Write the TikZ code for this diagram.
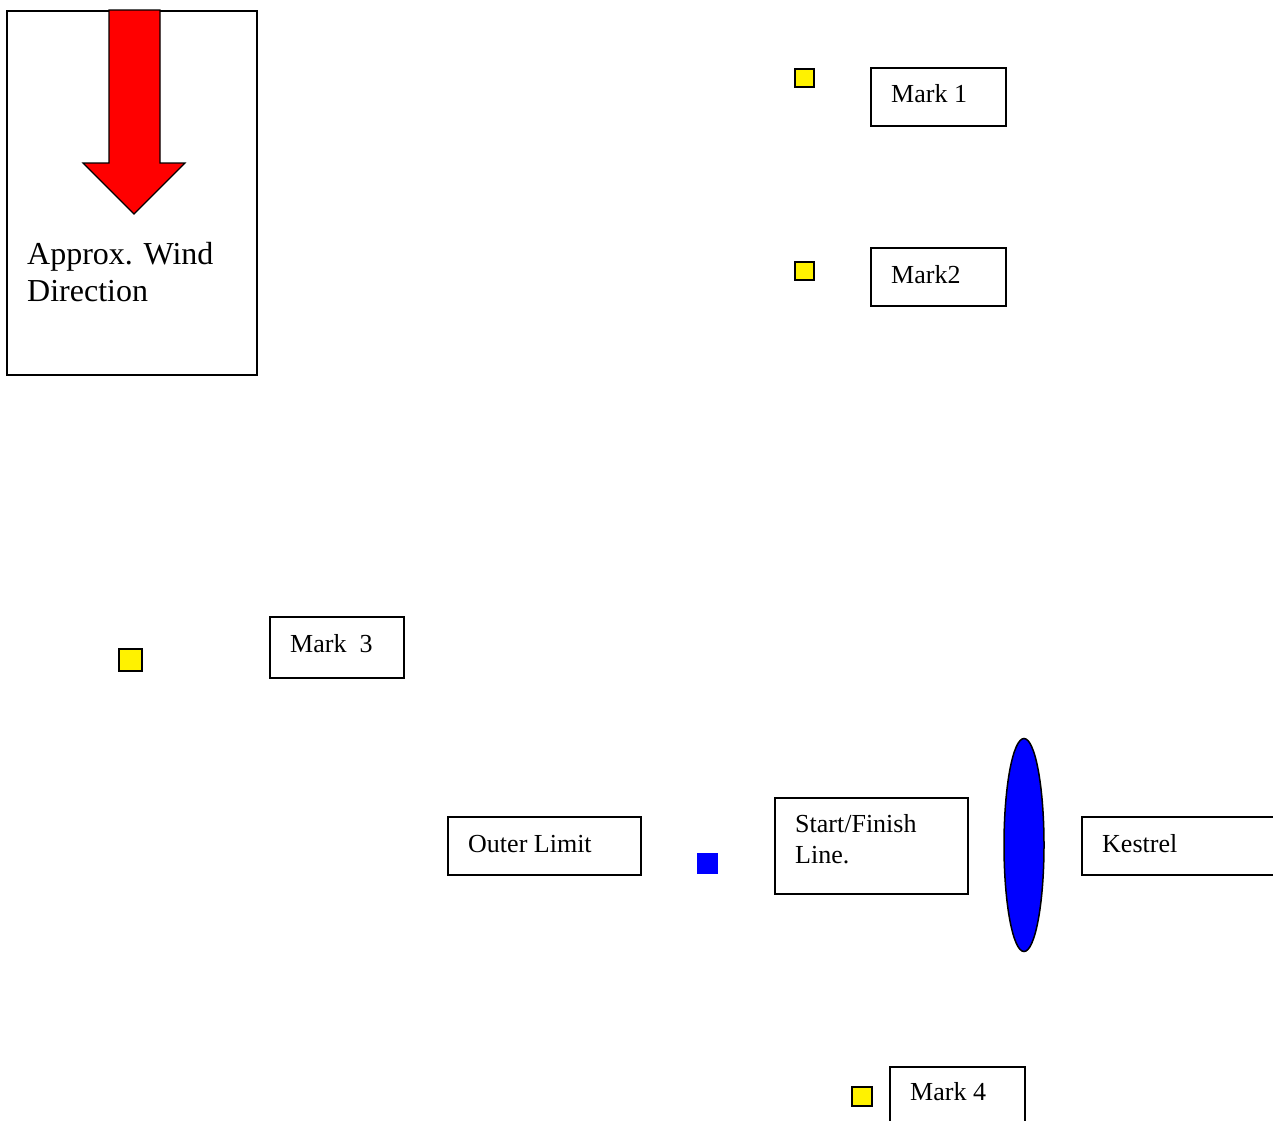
\documentclass[tikz,border=0pt]{standalone}
\usepackage{fontspec}
\setmainfont{Liberation Serif}
\usetikzlibrary{shapes.geometric}
\tikzset{
  boxframe/.style={draw=black, line width=1.5pt, fill=white, inner sep=0pt, anchor=north west},
  marksq/.style={draw=black, line width=1.5pt, fill=yellow, inner sep=0pt, anchor=north west},
  lbl/.style={anchor=base west, inner sep=0pt, font=\fontsize{26}{30}\selectfont},
  bigl/.style={anchor=base west, inner sep=0pt, font=\fontsize{32}{37}\selectfont, align=left},
}
\begin{document}
\begin{tikzpicture}[x=1pt,y=-1pt]
\useasboundingbox (0,0) rectangle (1273,1120);
\clip (0,0) rectangle (1273,1120);
% wind box
\node[boxframe, minimum width=250pt, minimum height=364pt] (windbox) at (6,10) {};
\draw[line width=1.2pt, fill=red] (109,10) -- (109,163) -- (83,163) -- (134,214) -- (185,163) -- (160,163) -- (160,10) -- cycle;
\node[bigl] (windtxt1) at (27,264) {Approx. Wind};
\node[bigl] (windtxt2) at (27,301) {Direction};
% Mark 1
\node[marksq, minimum width=19pt, minimum height=18pt] (sq1) at (794,68) {};
\node[boxframe, minimum width=135pt, minimum height=58pt] (m1) at (870,67) {};
\node[lbl] (m1t) at (891,102) {Mark 1};
% Mark 2
\node[marksq, minimum width=19pt, minimum height=18pt] (sq2) at (794,261) {};
\node[boxframe, minimum width=135pt, minimum height=58pt] (m2) at (870,247) {};
\node[lbl] (m2t) at (891,283) {Mark2};
% Mark 3
\node[marksq, minimum width=23pt, minimum height=22pt] (sq3) at (118,648) {};
\node[boxframe, minimum width=134pt, minimum height=61pt] (m3) at (269,616) {};
\node[lbl] (m3t) at (290,652) {Mark\ \ 3};
% Outer limit
\node[boxframe, minimum width=193pt, minimum height=58pt] (ol) at (447,816) {};
\node[lbl] (olt) at (468,852) {Outer Limit};
\node[fill=blue, inner sep=0pt, minimum width=21pt, minimum height=21pt, anchor=north west] (bsq) at (697,853) {};
% Start/Finish
\node[boxframe, minimum width=193pt, minimum height=96pt] (sf) at (774,797) {};
\node[lbl] (sft1) at (795,832) {Start/Finish};
\node[lbl] (sft2) at (795,863) {Line.};
% ellipse
\node[ellipse, draw=black, line width=1.5pt, fill=blue, inner sep=0pt, minimum width=40pt, minimum height=213pt] (ell) at (1024,845) {};
% Kestrel
\node[boxframe, minimum width=200pt, minimum height=58pt] (ke) at (1081,816) {};
\node[lbl] (ket) at (1102,852) {Kestrel};
% Mark 4
\node[marksq, minimum width=20pt, minimum height=19pt] (sq4) at (851,1086) {};
\node[boxframe, minimum width=135pt, minimum height=80pt] (m4) at (889,1066) {};
\node[lbl] (m4t) at (910,1100) {Mark 4};
\end{tikzpicture}
\end{document}
